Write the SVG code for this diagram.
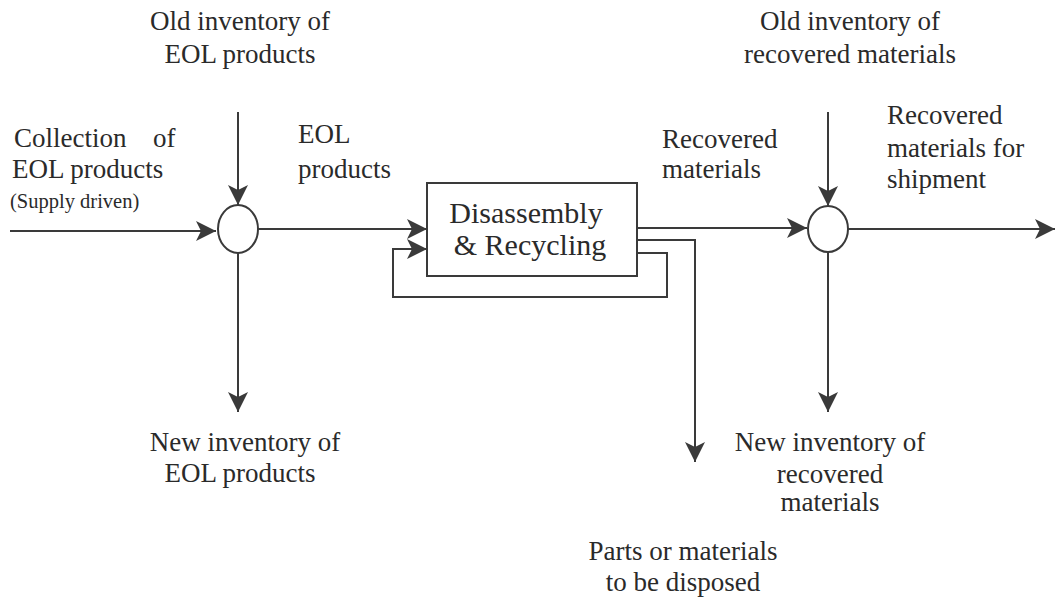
<svg xmlns="http://www.w3.org/2000/svg" width="1060" height="599" viewBox="0 0 1060 599">
  <style>
    .bg { fill: #ffffff; }
    .ln { fill: none; stroke: #3a3a3a; stroke-width: 2; }
    .arr { marker-end: url(#head); }
    .node { fill: #ffffff; stroke: #3a3a3a; stroke-width: 2; }
    .mid { text-anchor: middle; }
    .big { font-size: 30px; }
    .small { font-size: 20.5px; }
  </style>
  <defs>
    <marker id="head" markerUnits="userSpaceOnUse" markerWidth="22" markerHeight="22" refX="20" refY="11" orient="auto">
      <path d="M0,1 L20,11 L0,21 L5,11 z" fill="#3a3a3a"/>
    </marker>
  </defs>

  <rect class="bg" x="0" y="0" width="1060" height="599"/>

  <!-- flows -->
  <g id="connectors">
    <!-- left junction -->
    <line class="ln arr" x1="10" y1="231" x2="216" y2="231"/>
    <line class="ln arr" x1="238" y1="112" x2="238" y2="205"/>
    <line class="ln arr" x1="238" y1="253" x2="238" y2="412"/>
    <line class="ln arr" x1="258" y1="229" x2="427" y2="229"/>
    <!-- internal recycle loop -->
    <polyline class="ln arr" points="637,253 667,253 667,297 393,297 393,249 427,249"/>
    <!-- recovered materials out -->
    <line class="ln arr" x1="637" y1="228" x2="807" y2="228"/>
    <!-- disposal -->
    <polyline class="ln arr" points="637,240 695,240 695,462"/>
    <!-- right junction -->
    <line class="ln arr" x1="828" y1="112" x2="828" y2="206"/>
    <line class="ln arr" x1="828" y1="252" x2="828" y2="412"/>
    <line class="ln arr" x1="848" y1="229" x2="1055" y2="229"/>
  </g>

  <g font-family="'Liberation Serif', 'Times New Roman', Times, serif" font-size="27" fill="#2a2a2a">
    <g id="junction-eol">
      <ellipse class="node" cx="238" cy="229" rx="20" ry="24"/>
    </g>

    <g id="process">
      <rect class="node" x="427" y="183" width="210" height="93"/>
      <text class="big mid" x="526" y="223">Disassembly</text>
      <text class="big mid" x="530" y="255">&amp; Recycling</text>
    </g>

    <g id="junction-materials">
      <ellipse class="node" cx="828" cy="229" rx="20" ry="23"/>
    </g>

    <g id="label-old-eol">
      <text class="mid" x="240" y="30">Old inventory of</text>
      <text class="mid" x="240" y="63">EOL products</text>
    </g>

    <g id="label-collection">
      <text x="14" y="147">Collection</text>
      <text x="153" y="147">of</text>
      <text x="12" y="178">EOL products</text>
      <text class="small" x="10" y="208">(Supply driven)</text>
    </g>

    <g id="label-eol">
      <text x="298" y="143">EOL</text>
      <text x="298" y="178">products</text>
    </g>

    <g id="label-recovered">
      <text x="662" y="148">Recovered</text>
      <text x="662" y="178">materials</text>
    </g>

    <g id="label-old-materials">
      <text class="mid" x="850" y="30">Old inventory of</text>
      <text class="mid" x="850" y="63">recovered materials</text>
    </g>

    <g id="label-shipment">
      <text x="887" y="124">Recovered</text>
      <text x="887" y="157">materials for</text>
      <text x="887" y="188">shipment</text>
    </g>

    <g id="label-new-eol">
      <text class="mid" x="245" y="451">New inventory of</text>
      <text class="mid" x="240" y="482">EOL products</text>
    </g>

    <g id="label-new-materials">
      <text class="mid" x="830" y="451">New inventory of</text>
      <text class="mid" x="830" y="483">recovered</text>
      <text class="mid" x="830" y="511">materials</text>
    </g>

    <g id="label-disposal">
      <text class="mid" x="683" y="560">Parts or materials</text>
      <text class="mid" x="683" y="591">to be disposed</text>
    </g>
  </g>
</svg>
